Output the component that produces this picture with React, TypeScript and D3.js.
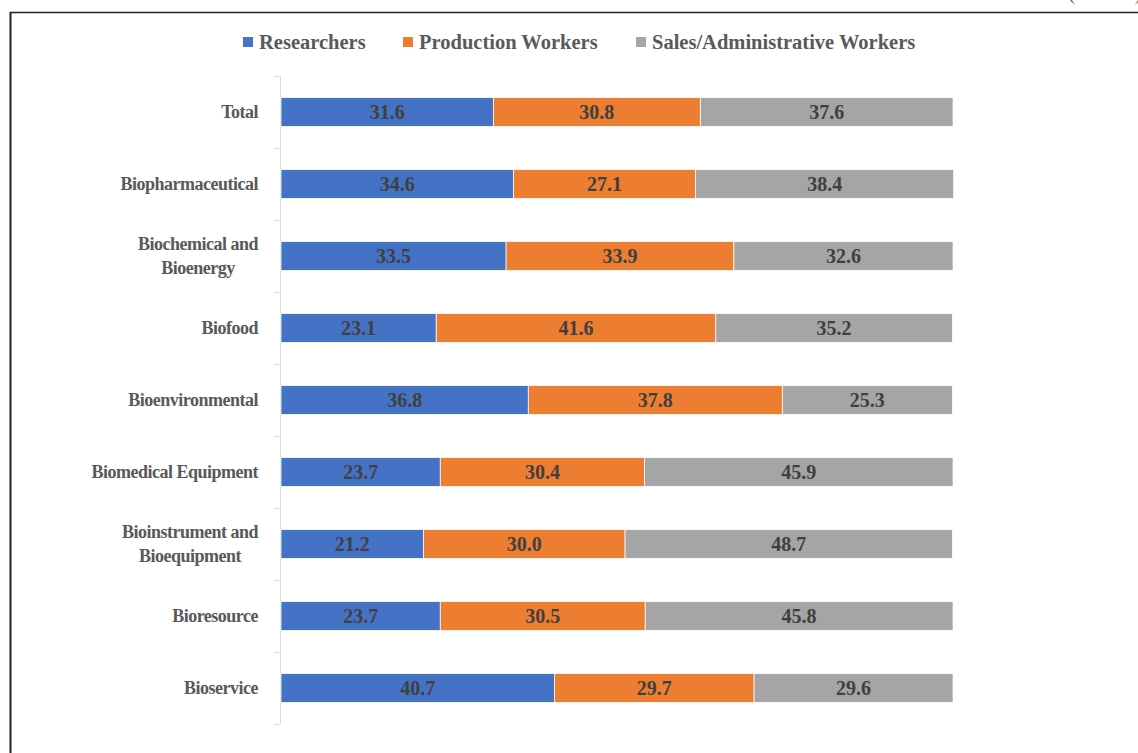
import { useRef, useEffect } from 'react';
import * as d3 from 'd3';

// Share of employees by occupation (%), per bio-industry sector
const categories = [
  'Total',
  'Biopharmaceutical',
  'Biochemical and\nBioenergy',
  'Biofood',
  'Bioenvironmental',
  'Biomedical Equipment',
  'Bioinstrument and\nBioequipment',
  'Bioresource',
  'Bioservice',
];
const researchers = [31.6, 34.6, 33.5, 23.1, 36.8, 23.7, 21.2, 23.7, 40.7];
const production = [30.8, 27.1, 33.9, 41.6, 37.8, 30.4, 30.0, 30.5, 29.7];
const salesAdmin = [37.6, 38.4, 32.6, 35.2, 25.3, 45.9, 48.7, 45.8, 29.6];
const seriesNames = ['Researchers', 'Production Workers', 'Sales/Administrative Workers'];
const seriesColors = ['#4472C4', '#ED7D31', '#A5A5A5'];

const W = 1138;
const H = 753;
const FONT = '"Liberation Serif", "Times New Roman", serif';

export default function App() {
  const svgRef = useRef<SVGSVGElement>(null);

  useEffect(() => {
    document.body.style.margin = '0';
    if (!svgRef.current) return;
    const svg = d3.select(svgRef.current);
    svg.selectAll('*').remove();

    const series = [researchers, production, salesAdmin];
    const rows = categories.map((c, i) => {
      const o: any = { cat: c };
      seriesNames.forEach((s, j) => (o[s] = series[j][i]));
      return o;
    });
    const stacked = d3.stack<any>().keys(seriesNames)(rows);

    const x = d3.scaleLinear().domain([0, 100]).range([281, 953]);
    const y = d3.scaleBand<string>()
      .domain(categories)
      .range([76, 724])
      .paddingInner(0.6)
      .paddingOuter(0.3);

    // frame (only top and left edges are visible)
    svg.append('line').attr('x1', 10).attr('x2', W).attr('y1', 12.5).attr('y2', 12.5)
      .attr('stroke', '#222').attr('stroke-width', 1.5);
    svg.append('line').attr('x1', 10.5).attr('x2', 10.5).attr('y1', 12).attr('y2', H)
      .attr('stroke', '#222').attr('stroke-width', 2);

    // unit note, clipped at the top as in the source
    svg.append('text').attr('x', 1141).attr('y', 0).attr('text-anchor', 'end')
      .attr('font-family', FONT).attr('font-size', 19).attr('fill', '#595959')
      .text('(Unit: %)');

    // category axis
    const ax = svg.append('g');
    ax.append('line').attr('x1', 280.5).attr('x2', 280.5).attr('y1', 76).attr('y2', 724)
      .attr('stroke', '#d9d9d9');
    const step = y.step();
    d3.range(categories.length + 1).forEach(i => {
      const yy = Math.round(76 + i * step) + 0.5;
      ax.append('line').attr('x1', 274).attr('x2', 280).attr('y1', yy).attr('y2', yy)
        .attr('stroke', '#d9d9d9');
    });

    // bars
    stacked.forEach((s, j) => {
      svg.append('g').selectAll('rect').data(s).enter().append('rect')
        .attr('x', d => x(d[0]))
        .attr('y', d => y(d.data.cat)!)
        .attr('width', d => x(d[1]) - x(d[0]))
        .attr('height', y.bandwidth())
        .attr('fill', seriesColors[j])
        .attr('stroke', '#fff')
        .attr('stroke-width', 0.75);

      svg.append('g').selectAll('text').data(s).enter().append('text')
        .attr('x', d => (x(d[0]) + x(d[1])) / 2)
        .attr('y', d => y(d.data.cat)! + y.bandwidth() / 2)
        .attr('dy', '0.35em')
        .attr('text-anchor', 'middle')
        .attr('font-family', FONT).attr('font-weight', 'bold').attr('font-size', 20)
        .attr('fill', '#404040')
        .text(d => (d[1] - d[0]).toFixed(1));
    });

    // category labels: multi-line blocks centred, block right edge near the axis
    const labelRight = 258;
    categories.forEach(c => {
      const lines = c.split('\n');
      const cy = y(c)! + y.bandwidth() / 2;
      const g = svg.append('g');
      const texts = lines.map((ln, k) =>
        g.append('text')
          .attr('y', cy + (k - (lines.length - 1) / 2) * 24)
          .attr('dy', '0.35em')
          .attr('font-family', FONT).attr('font-weight', 'bold').attr('font-size', 18)
          .attr('letter-spacing', -0.5)
          .attr('fill', '#595959')
          .text(ln));
      const maxW = d3.max(texts, t => (t.node() as SVGTextElement).getComputedTextLength()) || 0;
      texts.forEach(t => t.attr('x', labelRight - maxW / 2).attr('text-anchor', 'middle'));
    });

    // legend
    const legendX = [243, 403, 636];
    seriesNames.forEach((s, j) => {
      const lg = svg.append('g').attr('transform', `translate(${legendX[j]},0)`);
      lg.append('rect').attr('x', 0).attr('y', 37).attr('width', 10).attr('height', 10)
        .attr('fill', seriesColors[j]);
      lg.append('text').attr('x', 16).attr('y', 49)
        .attr('font-family', FONT).attr('font-weight', 'bold').attr('font-size', 20.5)
        .attr('fill', '#595959').text(s);
    });
  }, []);

  return <svg ref={svgRef} width={W} height={H} style={{ display: 'block', background: '#fff' }} />;
}
